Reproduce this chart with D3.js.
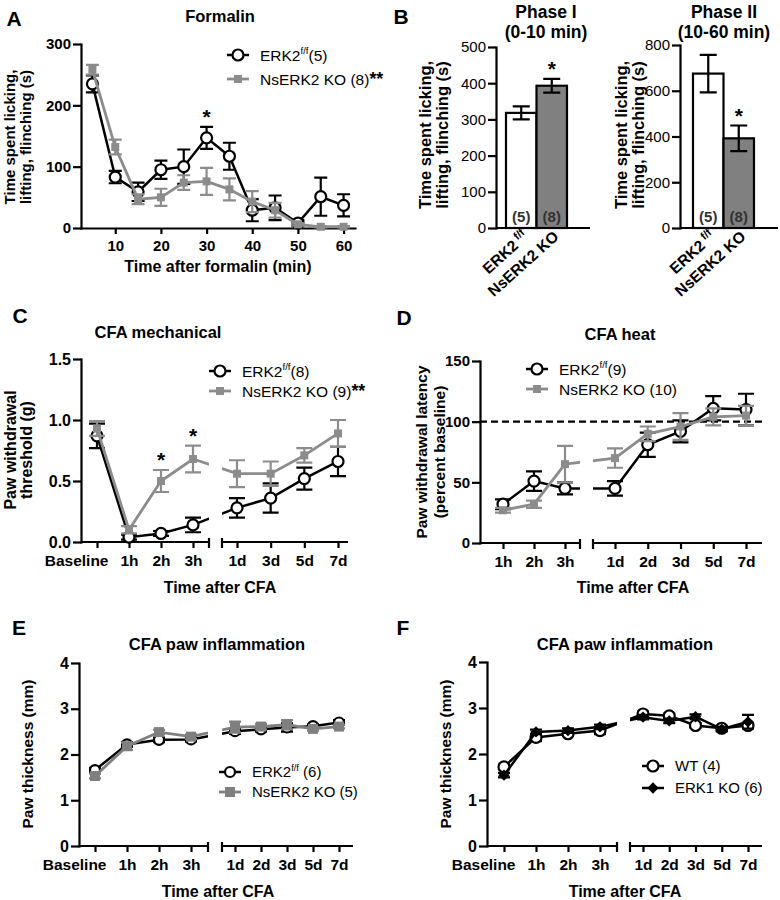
<!DOCTYPE html>
<html>
<head>
<meta charset="utf-8">
<script src="https://cdn.jsdelivr.net/npm/d3@7"></script>
<style>
  body { margin: 0; background: #fff; }
</style>
</head>
<body>
<svg id="fig" width="780" height="900"></svg>
<script>
// ---- A: formalin time course
const formalinTimes = [5, 10, 15, 20, 25, 30, 35, 40, 45, 50, 55, 60]
const formalinTicks = [10, 20, 30, 40, 50, 60]
const formalinErk2 = [235, 83, 59, 95, 100, 147, 117, 29, 33, 8, 51, 37]
const formalinErk2Sem = [14, 10, 15, 15, 28, 18, 22, 18, 20, 5, 31, 18]
const formalinKo = [258, 132, 47, 50, 74, 76, 63, 43, 29, 6, 2, 2]
const formalinKoSem = [8, 12, 8, 14, 12, 22, 18, 17, 12, 2, 1, 1]
const formalinStars = [30]

// ---- B: phase totals
const groups = ["ERK2", "NsERK2 KO"]
const groupN = ["(5)", "(8)"]
const phase1Mean = [318, 393]
const phase1Sem = [18, 19]
const phase2Mean = [675, 392]
const phase2Sem = [82, 56]

// ---- C: CFA mechanical
const cfaEarly = ["Baseline", "1h", "2h", "3h"]
const mechLate = ["1d", "3d", "5d", "7d"]
const mechErk2 = [0.87, 0.04, 0.07, 0.14, 0.28, 0.36, 0.52, 0.66]
const mechErk2Sem = [0.10, 0.02, 0.02, 0.06, 0.08, 0.12, 0.09, 0.12]
const mechKo = [0.93, 0.10, 0.50, 0.68, 0.56, 0.56, 0.71, 0.89]
const mechKoSem = [0.06, 0.03, 0.09, 0.11, 0.11, 0.10, 0.06, 0.11]
const mechStars = ["2h", "3h"]

// ---- D: CFA heat
const heatEarly = ["1h", "2h", "3h"]
const heatLate = ["1d", "2d", "3d", "5d", "7d"]
const heatErk2 = [32, 51, 45, 45, 81, 92, 111, 110]
const heatErk2Sem = [4, 8, 5, 6, 10, 9, 10, 13]
const heatKo = [27, 32, 65, 70, 90, 96, 104, 105]
const heatKoSem = [2, 3, 15, 8, 6, 11, 7, 8]

// ---- E / F: paw thickness
const pawLate = ["1d", "2d", "3d", "5d", "7d"]
const pawErk2 = [1.66, 2.22, 2.32, 2.33, 2.51, 2.55, 2.59, 2.62, 2.70]
const pawErk2Sem = [0.05, 0.05, 0.05, 0.05, 0.06, 0.05, 0.09, 0.04, 0.05]
const pawKo = [1.53, 2.18, 2.49, 2.39, 2.60, 2.61, 2.65, 2.56, 2.61]
const pawKoSem = [0.05, 0.08, 0.05, 0.05, 0.12, 0.06, 0.10, 0.04, 0.04]
const pawWt = [1.72, 2.36, 2.44, 2.51, 2.87, 2.83, 2.62, 2.56, 2.62]
const pawWtSem = [0.05, 0.08, 0.05, 0.08, 0.05, 0.05, 0.05, 0.05, 0.05]
const pawErk1Ko = [1.54, 2.48, 2.51, 2.59, 2.80, 2.72, 2.81, 2.54, 2.70]
const pawErk1KoSem = [0.05, 0.05, 0.05, 0.05, 0.05, 0.05, 0.05, 0.05, 0.15]

const FONT = "'Liberation Sans', Arial, Helvetica, sans-serif"
const GRAY = "#8c8c8c"

const svg = d3.select("#fig").attr("font-family", FONT)
const defs = svg.append("defs")

const label = (x, y, txt, size, weight = "bold", anchor = "middle") =>
    svg.append("text")
        .attr("x", x).attr("y", y)
        .attr("text-anchor", anchor)
        .attr("font-size", size)
        .attr("font-weight", weight)
        .text(txt)

const yTitle = (xs, cy, lines, size) => {
    lines.forEach((line, i) => {
        svg.append("text")
            .attr("transform", `translate(${xs[i]},${cy}) rotate(-90)`)
            .attr("text-anchor", "middle")
            .attr("font-size", size)
            .attr("font-weight", "bold")
            .text(line)
    })
}

const styleAxis = (g, weight, size) => {
    g.attr("font-family", FONT).attr("font-size", size).attr("font-weight", weight)
    g.select(".domain").attr("stroke-width", 2.2).attr("stroke-linecap", "square")
    g.selectAll(".tick line").attr("stroke-width", 2.2)
}

const yAxis = (y, x0, ticks, fmt, weight = "bold", size = 16) => {
    const g = svg.append("g")
        .attr("transform", `translate(${x0},0)`)
        .call(d3.axisLeft(y).tickValues(ticks).tickFormat(fmt)
            .tickSize(8).tickSizeOuter(0).tickPadding(2))
    styleAxis(g, weight, size)
}

const hline = (x1, x2, y) =>
    svg.append("line")
        .attr("x1", x1).attr("x2", x2).attr("y1", y).attr("y2", y)
        .attr("stroke", "#000").attr("stroke-width", 2.2)

const drawMarkers = (g, pts, m) => {
    if (m.shape === "circle") {
        g.selectAll(null).data(pts).enter().append("circle")
            .attr("cx", p => p.x).attr("cy", p => p.y).attr("r", m.r)
            .attr("fill", "#fff").attr("stroke", m.color).attr("stroke-width", 2.2)
    } else {
        const sym = d3.symbol(d3.symbolSquare, 4 * m.r * m.r)
        g.selectAll(null).data(pts).enter().append("path")
            .attr("d", sym)
            .attr("transform", p => `translate(${p.x},${p.y}) rotate(${m.shape === "diamond" ? 45 : 0})`)
            .attr("fill", m.color)
    }
}

// one data series: error bars, connecting line, markers
const drawSeries = (xs, y, vals, sems, m, clip) => {
    const g = svg.append("g")
    const pts = vals.map((v, i) => ({ x: xs[i], y: y(v), lo: y(Math.max(0, v - sems[i])), hi: y(v + sems[i]) }))
    g.selectAll(null).data(pts).enter().append("path")
        .attr("d", p => `M${p.x},${p.lo}V${p.hi}M${p.x - m.cap},${p.lo}H${p.x + m.cap}M${p.x - m.cap},${p.hi}H${p.x + m.cap}`)
        .attr("stroke", m.color).attr("stroke-width", 2.2).attr("fill", "none")
    const line = g.append("path")
        .datum(pts)
        .attr("d", d3.line().x(p => p.x).y(p => p.y))
        .attr("fill", "none").attr("stroke", m.color).attr("stroke-width", m.lw || 2.5)
    if (clip) line.attr("clip-path", `url(#${clip})`)
    drawMarkers(g, pts, m)
    return pts
}

const legend = (x, y, gap, rows, size = 15.5) => {
    rows.forEach((r, i) => {
        const cy = y + i * gap
        const g = svg.append("g")
        g.append("line").attr("x1", x - 11).attr("x2", x + 11).attr("y1", cy).attr("y2", cy)
            .attr("stroke", r.m.color).attr("stroke-width", r.m.lw || 2.5)
        drawMarkers(g, [{ x: x, y: cy }], r.m)
        const t = g.append("text").attr("x", x + 22).attr("y", cy + size * 0.36)
            .attr("font-size", size)
        let raised = false
        r.parts.forEach(p => {
            const ts = t.append("tspan").text(p.t)
            if (p.sup) {
                ts.attr("font-size", size * 0.62).attr("dy", -size * 0.42)
                raised = true
            } else if (raised) {
                ts.attr("dy", size * 0.42)
                raised = false
            }
            if (p.strong) ts.attr("font-weight", "bold").attr("font-size", size * 1.15)
        })
    })
}

const star = (x, yTop) => label(x, yTop - 2, "*", 21)

// axis with a break: two point scales sharing one baseline
const breakPanel = (p) => {
    const y = d3.scaleLinear(p.yDomain, p.yRange)
    const xe = d3.scalePoint(p.early, p.earlyPts)
    const xl = d3.scalePoint(p.late, p.latePts)
    const xs = [...p.early.map(xe), ...p.late.map(xl)]
    const y0 = y(0)

    defs.append("clipPath").attr("id", p.clip)
        .selectAll("rect").data([[0, p.gap[0]], [p.gap[1], 780]]).enter().append("rect")
        .attr("x", d => d[0]).attr("y", 0).attr("width", d => d[1] - d[0]).attr("height", 900)

    if (p.refLine) {
        svg.append("line")
            .attr("x1", p.yAxisX).attr("x2", p.gap[2]).attr("y1", y(p.refLine)).attr("y2", y(p.refLine))
            .attr("stroke", "#000").attr("stroke-width", 2.2).attr("stroke-dasharray", "7,4")
    }

    yAxis(y, p.yAxisX, p.yTicks, p.yFmt, "bold", p.yTickSize || 16)

    ;[[xe, p.yAxisX, p.gap[0]], [xl, p.gap[1], p.gap[2]]].forEach(([sc, a, b]) => {
        const g = svg.append("g").attr("transform", `translate(0,${y0})`)
            .call(d3.axisBottom(sc).tickSize(6).tickSizeOuter(0).tickPadding(7))
        g.select(".domain").remove()
        styleAxis(g, "bold", 15.5)
        // "Baseline" sits left of its tick
        g.selectAll(".tick text").filter(d => d === "Baseline")
            .attr("text-anchor", "end").attr("x", 11)
        hline(a, b, y0)
    })
    ;[p.gap[0], p.gap[1]].forEach(x =>
        svg.append("line").attr("x1", x).attr("x2", x).attr("y1", y0 - 4).attr("y2", y0 + 6)
            .attr("stroke", "#000").attr("stroke-width", 2.2))

    const out = p.series.map(s => drawSeries(xs, y, s.vals, s.sems, s.m, p.clip))
    return { y, xs, out }
}

// ================= A =================
{
    const x = d3.scaleLinear([2.5, 62.5], [81, 355])
    const y = d3.scaleLinear([0, 300], [228, 44])
    yAxis(y, 81, [0, 100, 200, 300], d3.format("d"), "bold", 15)
    const g = svg.append("g").attr("transform", `translate(0,${y(0)})`)
        .call(d3.axisBottom(x).tickValues(formalinTicks).tickSize(6).tickSizeOuter(0).tickPadding(6))
    styleAxis(g, "bold", 15)

    const xs = formalinTimes.map(x)
    const mBlack = { shape: "circle", r: 5.5, color: "#000", cap: 6.5 }
    const mGray = { shape: "square", r: 4, color: GRAY, cap: 6.5, lw: 2.8 }
    drawSeries(xs, y, formalinErk2, formalinErk2Sem, mBlack)
    drawSeries(xs, y, formalinKo, formalinKoSem, mGray)
    formalinStars.forEach(t => {
        const i = formalinTimes.indexOf(t)
        star(x(t), y(formalinErk2[i] + formalinErk2Sem[i]) - 1)
    })

    label(14, 26, "A", 21)
    label(220, 22, "Formalin", 16.5)
    yTitle([15, 31], 137, ["Time spent licking,", "lifting, flinching (s)"], 15)
    label(218, 272, "Time after formalin (min)", 16)
    legend(238, 55, 24, [
        { m: mBlack, parts: [{ t: "ERK2" }, { t: "f/f", sup: true }, { t: "(5)" }] },
        { m: mGray, parts: [{ t: "NsERK2 KO (8)" }, { t: "**", strong: true }] }
    ])
}

// ================= B =================
const barFill = ["#fff", "#808080"]
const barPanel = (p) => {
    const y = d3.scaleLinear([0, p.max], p.yRange)
    const band = d3.scaleBand(groups, p.band)
    const y0 = y(0)
    svg.selectAll(null).data(p.mean).enter().append("rect")
        .attr("x", (d, i) => band(groups[i]))
        .attr("y", d => y(d))
        .attr("width", band.bandwidth())
        .attr("height", d => y0 - y(d))
        .attr("fill", (d, i) => barFill[i])
        .attr("stroke", "#000").attr("stroke-width", 2.2)
    const cap = 8.5
    svg.selectAll(null).data(p.mean).enter().append("path")
        .attr("d", (d, i) => {
            const cx = band(groups[i]) + band.bandwidth() / 2
            const lo = y(d - p.sem[i]), hi = y(d + p.sem[i])
            return `M${cx},${lo}V${hi}M${cx - cap},${lo}H${cx + cap}M${cx - cap},${hi}H${cx + cap}`
        })
        .attr("stroke", "#000").attr("stroke-width", 2.2).attr("fill", "none")
    svg.selectAll(null).data(groupN).enter().append("text")
        .attr("x", (d, i) => band(groups[i]) + band.bandwidth() / 2)
        .attr("y", y0 - 6)
        .attr("text-anchor", "middle").attr("font-size", 15).attr("font-weight", "bold")
        .attr("fill", "#333")
        .text(d => d)
    yAxis(y, p.x0, d3.range(0, p.max + 1, p.step), d3.format("d"), "normal", 15)
    hline(p.x0, p.xEnd, y0)

    // rotated group labels
    groups.forEach((gname, i) => {
        const cx = band(gname) + band.bandwidth() / 2
        const t = svg.append("text")
            .attr("transform", `translate(${cx + 8},${y0 + 10}) rotate(-42)`)
            .attr("text-anchor", "end").attr("font-size", 15.5).attr("font-weight", "bold")
        t.append("tspan").text(gname)
        if (i === 0) t.append("tspan").text(" f/f").attr("font-size", 11).attr("dy", -6)
    })
    p.stars.forEach(i => {
        const cx = band(groups[i]) + band.bandwidth() / 2
        star(cx, y(p.mean[i] + p.sem[i]) - 1)
    })
    label(p.titleX, 18, p.title[0], 17.5)
    label(p.titleX, 38, p.title[1], 17.5)
    yTitle(p.labelX, 135, ["Time spent licking,", "lifting, flinching (s)"], 16.5)
}
barPanel({ max: 500, step: 100, yRange: [228, 47], band: [506, 567], x0: 496, xEnd: 590,
    mean: phase1Mean, sem: phase1Sem, stars: [1], title: ["Phase I", "(0-10 min)"], titleX: 546, labelX: [431, 448] })
barPanel({ max: 800, step: 200, yRange: [228, 45], band: [693, 754], x0: 680, xEnd: 778,
    mean: phase2Mean, sem: phase2Sem, stars: [1], title: ["Phase II", "(10-60 min)"], titleX: 724, labelX: [627, 644] })
label(401, 24, "B", 21)

// ================= C =================
{
    const mBlack = { shape: "circle", r: 5.5, color: "#000", cap: 8 }
    const mGray = { shape: "square", r: 4, color: GRAY, cap: 8, lw: 2.8 }
    const r = breakPanel({
        clip: "clipC", yAxisX: 81, yDomain: [0, 1.5], yRange: [542, 359],
        yTicks: [0, 0.5, 1, 1.5], yFmt: d3.format(".1f"),
        early: cfaEarly, earlyPts: [97, 193], late: mechLate, latePts: [237, 338],
        gap: [209, 222, 348],
        series: [
            { vals: mechErk2, sems: mechErk2Sem, m: mBlack },
            { vals: mechKo, sems: mechKoSem, m: mGray }
        ]
    })
    mechStars.forEach(c => {
        const i = cfaEarly.indexOf(c)
        star(r.xs[i], r.y(mechKo[i] + mechKoSem[i]) - 1)
    })
    label(20, 323, "C", 21)
    label(158, 338, "CFA mechanical", 16.5)
    yTitle([16, 32], 450, ["Paw withdrawal", "threshold (g)"], 16)
    label(220, 593, "Time after CFA", 16)
    legend(220, 371, 20, [
        { m: mBlack, parts: [{ t: "ERK2" }, { t: "f/f", sup: true }, { t: "(8)" }] },
        { m: mGray, parts: [{ t: "NsERK2 KO (9)" }, { t: "**", strong: true }] }
    ])
}

// ================= D =================
{
    const mBlack = { shape: "circle", r: 5.5, color: "#000", cap: 8 }
    const mGray = { shape: "square", r: 4, color: GRAY, cap: 8, lw: 2.8 }
    breakPanel({
        clip: "clipD", yAxisX: 480, yDomain: [0, 150], yRange: [543, 361],
        yTicks: [0, 50, 100, 150], yFmt: d3.format("d"), refLine: 100, yTickSize: 15,
        early: heatEarly, earlyPts: [503, 565], late: heatLate, latePts: [615, 746],
        gap: [580, 593, 762],
        series: [
            { vals: heatErk2, sems: heatErk2Sem, m: mBlack },
            { vals: heatKo, sems: heatKoSem, m: mGray }
        ]
    })
    label(404, 325, "D", 21)
    label(620, 340, "CFA heat", 16.5)
    yTitle([427, 445], 452, ["Paw withdrawal latency", "(percent baseline)"], 15.5)
    label(633, 593, "Time after CFA", 16)
    legend(537, 369, 20, [
        { m: mBlack, parts: [{ t: "ERK2" }, { t: "f/f", sup: true }, { t: "(9)" }] },
        { m: mGray, parts: [{ t: "NsERK2 KO (10)" }] }
    ])
}

// ================= E =================
{
    const mBlack = { shape: "circle", r: 5, color: "#000", cap: 6 }
    const mGray = { shape: "square", r: 5, color: "#7f7f7f", cap: 6, lw: 2.8 }
    breakPanel({
        clip: "clipE", yAxisX: 79, yDomain: [0, 4], yRange: [846, 663],
        yTicks: [0, 1, 2, 3, 4], yFmt: d3.format("d"),
        early: cfaEarly, earlyPts: [95, 191], late: pawLate, latePts: [235, 339],
        gap: [208, 222, 353],
        series: [
            { vals: pawErk2, sems: pawErk2Sem, m: mBlack },
            { vals: pawKo, sems: pawKoSem, m: mGray }
        ]
    })
    label(19, 635, "E", 21)
    label(217, 650, "CFA paw inflammation", 16.5)
    yTitle([33], 754, ["Paw thickness (mm)"], 15.5)
    label(218, 897, "Time after CFA", 16)
    legend(230, 772, 20, [
        { m: mBlack, parts: [{ t: "ERK2" }, { t: "f/f", sup: true }, { t: " (6)" }] },
        { m: mGray, parts: [{ t: "NsERK2 KO (5)" }] }
    ], 15)
}

// ================= F =================
{
    const mOpen = { shape: "circle", r: 5.5, color: "#000", cap: 6 }
    const mDiamond = { shape: "diamond", r: 4, color: "#000", cap: 6 }
    breakPanel({
        clip: "clipF", yAxisX: 487, yDomain: [0, 4], yRange: [846, 662],
        yTicks: [0, 1, 2, 3, 4], yFmt: d3.format("d"),
        early: cfaEarly, earlyPts: [504, 600], late: pawLate, latePts: [643, 748],
        gap: [617, 630, 762],
        series: [
            { vals: pawWt, sems: pawWtSem, m: mOpen },
            { vals: pawErk1Ko, sems: pawErk1KoSem, m: mDiamond }
        ]
    })
    label(403, 635, "F", 21)
    label(625, 650, "CFA paw inflammation", 16.5)
    yTitle([451], 754, ["Paw thickness (mm)"], 15.5)
    label(625, 897, "Time after CFA", 16)
    legend(653, 766, 22, [
        { m: mOpen, parts: [{ t: "WT (4)" }] },
        { m: mDiamond, parts: [{ t: "ERK1 KO (6)" }] }
    ], 15)
}
</script>
</body>
</html>
